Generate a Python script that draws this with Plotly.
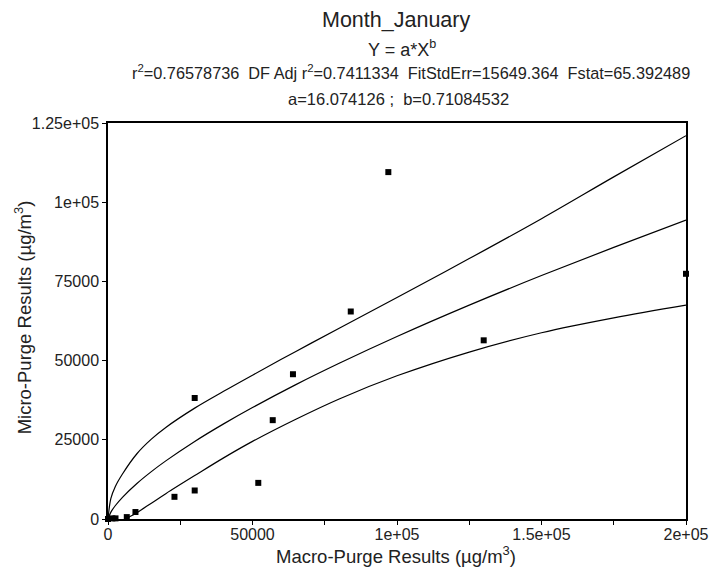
import plotly.graph_objects as go

# ---- data ----
macro = [0, 1500, 2600, 6500, 9500, 23000, 30000, 30000, 52000, 57000, 64000, 84000, 97000, 130000, 200000]
micro = [0, 200, 200, 600, 2200, 7000, 9000, 38200, 11400, 31200, 45700, 65500, 109500, 56400, 77400]

curve_x = [0, 1000, 2500, 5000, 10000, 15000, 20000, 30000, 40000, 50000, 65000,
           80000, 100000, 125000, 150000, 175000, 200000]
fit_y = [0, 2181, 4187, 6846, 11207, 14954, 18349, 24481, 30025, 35186, 42420,
         49155, 57610, 67510, 76850, 85740, 94370]
upper_y = [0, 6500, 10200, 14200, 20600, 25200, 28900, 35000, 40300, 45400, 52900,
           60200, 69900, 82200, 94800, 108000, 121000]
lower_y = [0, -2100, -1800, -500, 2000, 5000, 8000, 13700, 19300, 24500, 31500,
           37900, 45200, 52700, 58800, 63500, 67500]

x_tickvals = [0, 25000, 50000, 75000, 100000, 125000, 150000, 175000, 200000]
x_ticktext = ["0", "", "50000", "", "1e+05", "", "1.5e+05", "", "2e+05"]
y_tickvals = [0, 25000, 50000, 75000, 100000, 125000]
y_ticktext = ["0", "25000", "50000", "75000", "1e+05", "1.25e+05"]

title = "Month_January"
eq = "Y = a*X<sup>b</sup>"
stats = ("r<sup>2</sup>=0.76578736  DF Adj r<sup>2</sup>=0.7411334  "
         "FitStdErr=15649.364  Fstat=65.392489")
params = "a=16.074126 ;  b=0.71084532"
x_title = "Macro-Purge Results (µg/m<sup>3</sup>)"
y_title = "Micro-Purge Results (µg/m<sup>3</sup>)"

FONT = "Arial, 'Liberation Sans', sans-serif"
TXT = "#222222"

fig = go.Figure()
for ys in (upper_y, fit_y, lower_y):
    fig.add_trace(go.Scatter(x=curve_x, y=ys, mode="lines",
                             line=dict(color="black", width=1.2, shape="spline"),
                             hoverinfo="skip", showlegend=False))
fig.add_trace(go.Scatter(x=macro, y=micro, mode="markers",
                         marker=dict(symbol="square", size=6, color="black"),
                         cliponaxis=False, showlegend=False))

# page body has an 8px default margin, so the figure is sized to fit the window
fig.update_layout(
    width=713, height=559,
    margin=dict(l=100, r=26, t=115, b=48),
    paper_bgcolor="white", plot_bgcolor="white",
    font=dict(family=FONT, color=TXT, size=16),
    showlegend=False,
    xaxis=dict(range=[0, 200000], tickmode="array", tickvals=x_tickvals, ticktext=x_ticktext,
               showgrid=False, zeroline=False, showline=True, linecolor="black", linewidth=1.5,
               mirror=True, ticks="outside", ticklen=4, tickcolor="black",
               ticklabelstandoff=-4,
               tickfont=dict(size=16, color=TXT)),
    yaxis=dict(range=[0, 125000], tickmode="array", tickvals=y_tickvals, ticktext=y_ticktext,
               showgrid=False, zeroline=False, showline=True, linecolor="black", linewidth=1.5,
               mirror=True, ticks="outside", ticklen=4, tickcolor="black",
               tickfont=dict(size=16, color=TXT)),
)

def ann(text, x, y, size, **kw):
    fig.add_annotation(text=text, x=x, y=y, xref="paper", yref="paper",
                       showarrow=False, font=dict(family=FONT, size=size, color=TXT),
                       xanchor="center", yanchor="middle", **kw)

ann(title, 0.498, 1.260, 21.5)
ann(eq, 0.508, 1.189, 18)
ann(stats, 0.525, 1.129, 16.3)
ann(params, 0.503, 1.060, 16.5)
ann(x_title, 0.499, -0.091, 18.5)
ann(y_title, -0.1465, 0.51, 18.5, textangle=-90)

fig.write_html("out.html")
